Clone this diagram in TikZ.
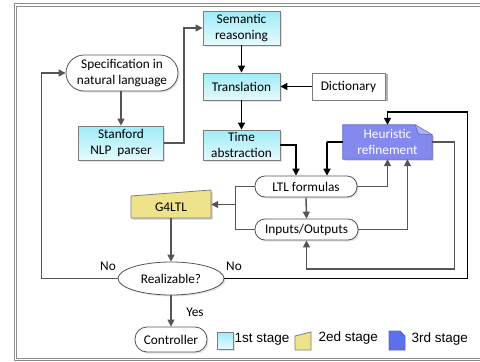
\documentclass[tikz,border=0pt]{standalone}
\usepackage{fontspec}
\setmainfont{Carlito}
\newfontfamily\legendfont{Liberation Sans}
\usetikzlibrary{arrows.meta,shapes.geometric,shadows,calc}
\definecolor{cytop}{RGB}{158,236,248}
\definecolor{cybot}{RGB}{230,250,253}
\definecolor{boxline}{RGB}{125,125,125}
\definecolor{heurfill}{RGB}{132,137,240}
\definecolor{heurline}{RGB}{95,100,200}
\definecolor{yel}{RGB}{238,226,138}
\definecolor{legblue}{RGB}{92,112,236}
\definecolor{grayline}{RGB}{85,85,85}
\definecolor{framecol}{RGB}{140,140,140}
\begin{document}
\begin{tikzpicture}[x=1pt,y=-1pt,
  every node/.style={font=\fontsize{13.3}{16}\selectfont, inner sep=0pt, align=center},
  softshadow/.style={drop shadow={opacity=0.22, shadow xshift=1.5pt, shadow yshift=-1.5pt}},
  stagebox/.style={draw=boxline, line width=0.8pt, top color=cytop, bottom color=cybot, minimum width=77pt, softshadow},
  pill/.style={draw=grayline, line width=0.8pt, fill=white, rounded corners=10pt, minimum width=102pt, minimum height=21pt, softshadow},
  garrow/.style={draw=grayline, line width=1.4pt, -{Triangle[length=7pt,width=7pt]}},
  gline/.style={draw=grayline, line width=1.4pt},
  barrow/.style={draw=black, line width=1.6pt, -{Triangle[length=7pt,width=7pt]}},
  lbl/.style={font=\fontsize{13.3}{16}\selectfont},
  legtext/.style={font=\legendfont\fontsize{13.5}{16}\selectfont, anchor=west}
]
\useasboundingbox (0,0) rectangle (480,362);
% frame
\draw[framecol, line width=0.9pt] (14,3.5) rectangle (492,360.5);
\draw[framecol, line width=0.9pt] (16.5,6) rectangle (489,358);

% nodes
\node[stagebox, minimum height=34pt] (sem) at (241.5,28) {Semantic\\reasoning};
\node[stagebox, minimum height=27pt] (tra) at (241.5,86.5) {Translation};
\node[stagebox, minimum height=30pt] (tim) at (241.5,145) {Time\\abstraction};
\node[stagebox, minimum width=85pt, minimum height=34pt] (stan) at (121,143) {Stanford\\NLP\ \ parser};
\node[draw=grayline, line width=0.8pt, fill=white, rounded corners=18pt, minimum width=112pt, minimum height=36pt, softshadow] (spec) at (122,73) {Specification in\\natural language};

% dictionary with 3D depth
\fill[gray!60] (315,74) rectangle (388,101);
\node[draw=boxline, line width=0.8pt, fill=white, minimum width=73pt, minimum height=27pt] (dict) at (348.5,86.5) {Dictionary};

% heuristic refinement (document shape)
\node[minimum width=89pt, minimum height=34pt, text=white] (heur) at (387.5,142) {Heuristic\\refinement};
\fill[black, opacity=0.2] (344.5,126.5) -- (418.5,126.5) -- (433.5,136.5) -- (433.5,160.5) -- (344.5,160.5) -- cycle;
\draw[heurline, fill=heurfill, line width=0.8pt] (heur.north west) -- ($(heur.north east)+(-17,0)$) -- ($(heur.north east)+(0,10)$) -- (heur.south east) -- (heur.south west) -- cycle;
\fill[white, opacity=0.35] ($(heur.north east)+(-17,0)$) -- ($(heur.north east)+(-14,9)$) -- ($(heur.north east)+(0,10)$) -- cycle;
\draw[heurline, line width=0.6pt] ($(heur.north east)+(-17,0)$) -- ($(heur.north east)+(-14,9)$) -- ($(heur.north east)+(0,10)$);
\node[minimum width=89pt, minimum height=34pt, text=white] at (heur) {Heuristic\\refinement};

\node[pill] (ltl) at (306,186.5) {LTL formulas};
\node[pill, minimum width=103pt] (io) at (306.5,229.5) {Inputs/Outputs};

% G4LTL trapezoid
\node[minimum width=80pt, minimum height=22pt] (g4) at (171,207) {};
\fill[black, opacity=0.2] (132.5,197.5) -- (212.5,191.5) -- (212.5,219.5) -- (132.5,219.5) -- cycle;
\draw[boxline, fill=yel, line width=0.8pt] (131,196) -- (211,190) -- (211,218) -- (131,218) -- cycle;
\node at (g4) {G4LTL};

\node[draw=grayline, line width=0.8pt, fill=white, ellipse, minimum width=106pt, minimum height=33pt, softshadow] (real) at (171,278.5) {Realizable?};
\node[draw=grayline, line width=0.8pt, fill=white, rounded corners=12pt, minimum width=72pt, minimum height=25pt, softshadow] (ctrl) at (171,339.5) {Controller};

% connectors
\path[garrow] (spec.south -| stan.north) -- (stan.north);
\path[garrow] (stan.east) -- ++(20,0) |- (sem.west);
\path[barrow] (sem.south) -- (tra.north);
\path[barrow] (dict.west) -- (tra.east);
\path[barrow] (tra.south) -- (tim.north);
\path[barrow] (tim.east) -- ++(15,0) -| ($(ltl.north)+(-10,0)$);
\path[barrow] (heur.west) -- ++(-16,0) -| ($(ltl.north)+(21,0)$);
\path[barrow] (real.east) -- ++(243,0) |- ($(heur.north)+(0,-13)$) -- (heur.north);
\path[garrow] (heur.east) -- ++(22,0) |- ($(io.south)+(0,28.5)$) -- (io.south);
\path[garrow] (ltl.east) -| (heur.south);
\path[garrow] (io.east) -| ($(heur.south)+(20,0)$);
\path[gline] (ltl.west) -- ++(-19,0) |- (io.west);
\coordinate (j) at (236,204.5);
\path[garrow] (j) -- (g4.east |- j);
\path[garrow] (ltl.south) -- (io.north);
\path[garrow] (g4.south) -- (real.north);
\path[garrow] (real.west) -- ++(-76,0) |- (spec.west);
\path[garrow] (real.south) -- (ctrl.north);

\node[lbl] (no1) at (108,266.5) {No};
\node[lbl] (no2) at (234,266.5) {No};
\node[lbl] (yes) at (195,312) {Yes};

% legend
\node[draw=boxline, line width=0.8pt, top color=cytop, bottom color=cybot, minimum width=16pt, minimum height=17pt, softshadow] (lg1) at (225,340.5) {};
\node[legtext] (lt1) at (234.5,339) {1st stage};
\node[minimum width=16pt, minimum height=18pt] (lg2) at (303,341) {};
\draw[boxline, fill=yel, line width=0.8pt] (295,336) -- (311,332) -- (311,350) -- (295,350) -- cycle;
\node[legtext] (lt2) at (318.5,338) {2ed stage};
\node[minimum width=16pt, minimum height=19pt] (lg3) at (397,340.5) {};
\draw[heurline, fill=legblue, line width=0.8pt] (389,331) -- (400,331) -- (405,336) -- (405,350) -- (389,350) -- cycle;
\draw[heurline, line width=0.6pt] (400,331) -- (401,335.5) -- (405,336);
\node[legtext] (lt3) at (411.5,339.5) {3rd stage};
\end{tikzpicture}
\end{document}
